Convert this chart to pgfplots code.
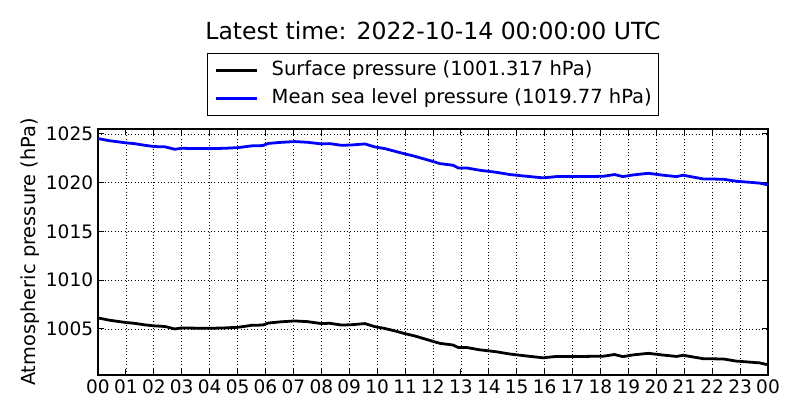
\documentclass[border=0pt]{standalone}
\usepackage{fontspec}
\setmainfont{DejaVu Sans}
\usepackage{pgfplots}
\pgfplotsset{compat=1.18}
\begin{document}
\begin{tikzpicture}
\useasboundingbox (-70.56bp,-32.4bp) rectangle (505.44bp,269.98bp);
\begin{axis}[
  scale only axis,
  width=482.4bp, height=177.1bp,
  xmin=0, xmax=24, ymin=1000.28, ymax=1025.5,
  xtick={0,...,24},
  xticklabels={00,01,02,03,04,05,06,07,08,09,10,11,12,13,14,15,16,17,18,19,20,21,22,23,00},
  ytick={1005,1010,1015,1020,1025},
  yticklabel style={/pgf/number format/1000 sep={}},
  /pgf/number format/assume math mode=true,
  tick label style={font=\fontsize{13.4}{15}\selectfont},
  xticklabel style={inner xsep=0bp},
  tick align=inside,
  major tick length=4bp,
  tick style={black, line width=0.7bp},
  axis line style={black, line width=1bp},
  grid=major,
  major grid style={black, dotted, line width=0.5bp},
  ylabel={Atmospheric pressure (hPa)},
  ylabel style={at={(axis description cs:-0.1016,0.5)}, anchor=center, rotate=0, font=\fontsize{14}{16}\selectfont},
  legend style={at={(0.5,1.053)}, anchor=south, draw=black, line width=0.6bp,
    font=\fontsize{14.1}{16}\selectfont, inner xsep=5bp, inner ysep=5.5bp,
    nodes={inner sep=0bp, text height=10.5bp, text depth=3.5bp},
    column sep=9.4bp, row sep=6bp},
  legend cell align=left,
  legend image code/.code={\draw[#1] (0bp,0bp) -- (30bp,0bp);},
]
\addplot[black, line width=2bp] coordinates {
(0,1006.13) (0.4,1005.90) (0.84,1005.72) (1.0,1005.66) (1.3,1005.58) (1.67,1005.42)
(2.0,1005.32) (2.4,1005.25) (2.75,1005.00) (3.0,1005.10) (3.5,1005.08) (4.06,1005.07)
(4.5,1005.10) (5.02,1005.17) (5.5,1005.37) (5.9,1005.40) (6.1,1005.60) (6.5,1005.72)
(7.04,1005.82) (7.5,1005.75) (8.0,1005.55) (8.3,1005.58) (8.72,1005.40) (9.08,1005.43)
(9.56,1005.55) (9.9,1005.25) (10.27,1005.05) (10.63,1004.80) (10.99,1004.52) (11.35,1004.28)
(11.89,1003.82) (12.25,1003.52) (12.72,1003.35) (12.9,1003.10) (13.2,1003.10) (13.67,1002.86)
(14.27,1002.66) (14.75,1002.43) (15.22,1002.27) (15.94,1002.04) (16.42,1002.18) (17.26,1002.18)
(18.1,1002.20) (18.5,1002.38) (18.8,1002.16) (19.17,1002.34) (19.71,1002.50) (20.25,1002.32)
(20.72,1002.18) (20.96,1002.30) (21.68,1001.95) (22.4,1001.92) (22.87,1001.70) (23.34,1001.60)
(23.7,1001.52) (24,1001.32)
};
\addlegendentry{Surface pressure (1001.317 hPa)}
\addplot[blue, line width=2bp] coordinates {
(0,1024.52) (0.4,1024.30) (0.84,1024.14) (1.0,1024.08) (1.3,1024.00) (1.67,1023.83)
(2.0,1023.70) (2.4,1023.67) (2.75,1023.42) (3.0,1023.52) (3.5,1023.50) (4.06,1023.49)
(4.5,1023.52) (5.02,1023.59) (5.5,1023.77) (5.9,1023.80) (6.1,1024.02) (6.5,1024.12)
(7.04,1024.21) (7.5,1024.14) (8.0,1023.97) (8.3,1024.00) (8.72,1023.83) (9.08,1023.86)
(9.56,1023.97) (9.9,1023.67) (10.27,1023.49) (10.63,1023.22) (10.99,1022.95) (11.35,1022.70)
(11.89,1022.26) (12.25,1021.95) (12.72,1021.78) (12.9,1021.51) (13.2,1021.51) (13.67,1021.27)
(14.27,1021.06) (14.75,1020.83) (15.22,1020.69) (15.94,1020.49) (16.42,1020.62) (17.26,1020.62)
(18.1,1020.65) (18.5,1020.83) (18.8,1020.62) (19.17,1020.79) (19.71,1020.96) (20.25,1020.76)
(20.72,1020.62) (20.96,1020.76) (21.68,1020.38) (22.4,1020.35) (22.87,1020.14) (23.34,1020.04)
(23.7,1019.95) (24,1019.77)
};
\addlegendentry{Mean sea level pressure (1019.77 hPa)}
\end{axis}
\node[anchor=base, font=\fontsize{17}{20}\selectfont] at (241.2bp,241.2bp) {Latest time: 2022-10-14 00:00:00 UTC};
\end{tikzpicture}
\end{document}
